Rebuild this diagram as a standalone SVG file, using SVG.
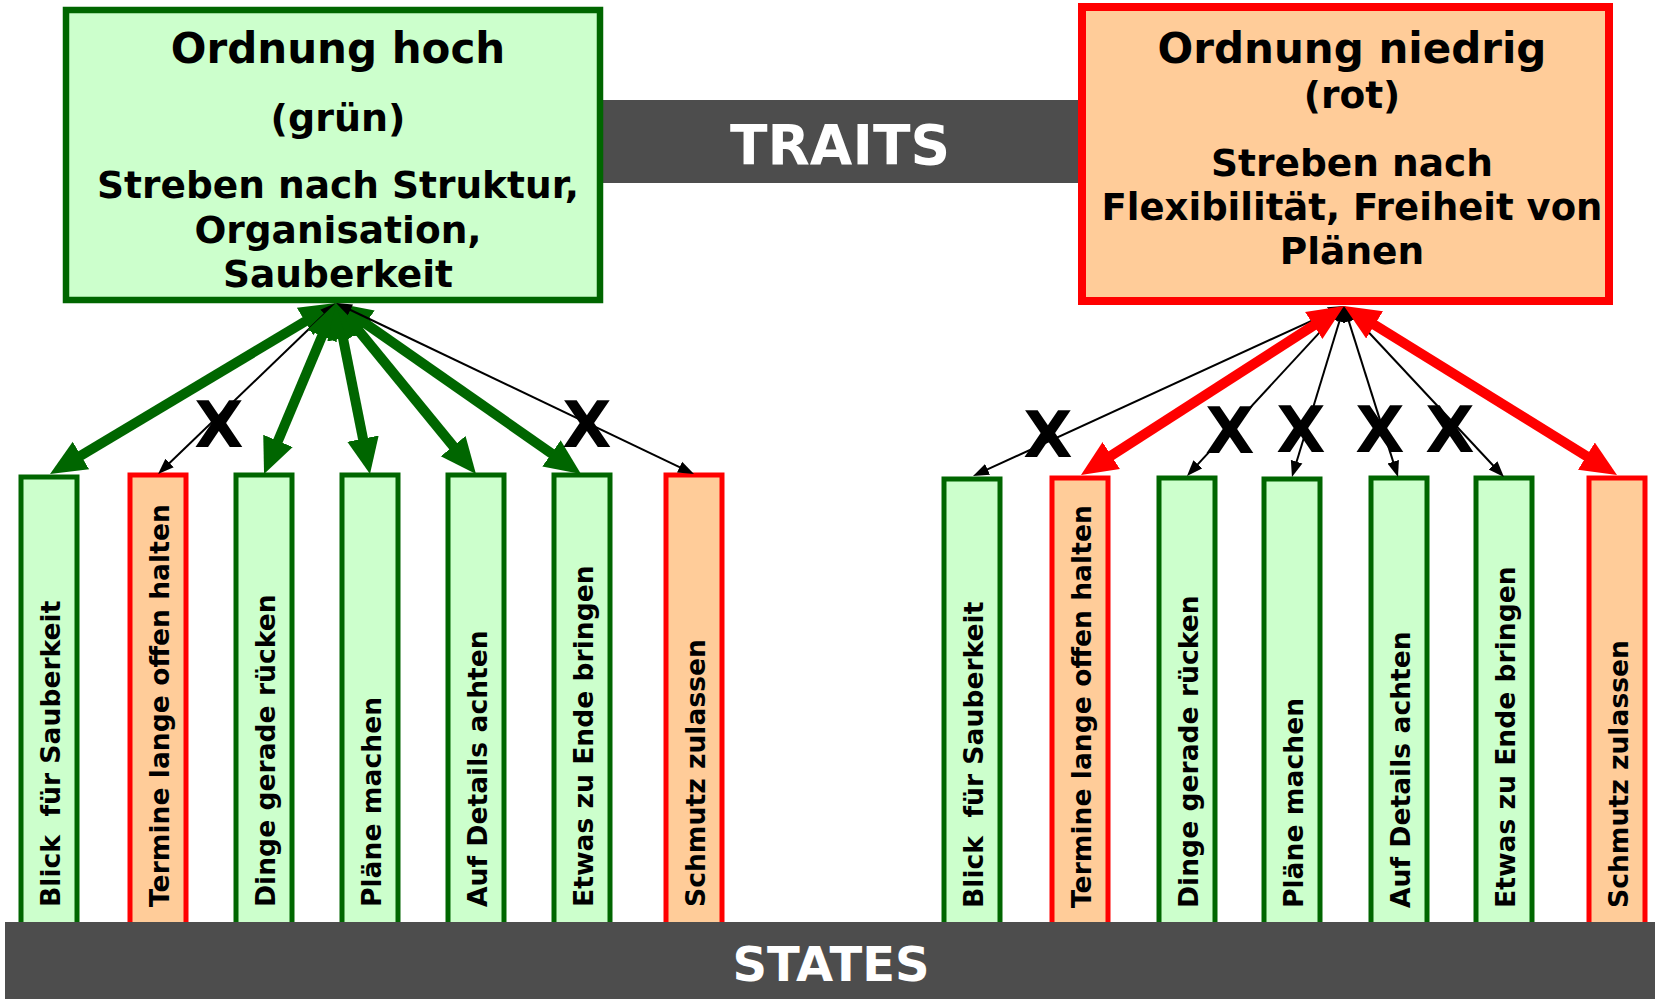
<svg xmlns="http://www.w3.org/2000/svg" width="1655" height="999" viewBox="0 0 1655 999">
<style>
text{font-family:"DejaVu Sans","Verdana",sans-serif;font-weight:bold;fill:#000}
.g{fill:#ccffcc;stroke:#006600;stroke-width:5}
.r{fill:#ffcc99;stroke:#ff0000;stroke-width:5}
.bt{font-size:26.6px;white-space:pre}
.band{fill:#4d4d4d}
.wt{fill:#fff;text-anchor:middle}
.hd{text-anchor:middle}
.x{font-size:64px;text-anchor:middle}
.tg{stroke:#006600;stroke-width:10;fill:none;marker-start:url(#hg);marker-end:url(#hg)}
.tr{stroke:#ff0000;stroke-width:10;fill:none;marker-start:url(#hr);marker-end:url(#hr)}
.tb{stroke:#000;stroke-width:2;fill:none;marker-start:url(#hb);marker-end:url(#hb)}
</style>
<defs>
<marker id="hg" markerUnits="userSpaceOnUse" markerWidth="40" markerHeight="36" viewBox="0 -18 40 36" refX="16" refY="0" orient="auto-start-reverse"><path d="M0,-16 L36,0 L0,16 Z" fill="#006600"/></marker>
<marker id="hr" markerUnits="userSpaceOnUse" markerWidth="40" markerHeight="36" viewBox="0 -18 40 36" refX="16" refY="0" orient="auto-start-reverse"><path d="M0,-16 L36,0 L0,16 Z" fill="#ff0000"/></marker>
<marker id="hb" markerUnits="userSpaceOnUse" markerWidth="18" markerHeight="14" viewBox="0 -7 18 14" refX="8" refY="0" orient="auto-start-reverse"><path d="M0,-6 L16,0 L0,6 Z" fill="#000"/></marker>
</defs>

<g id="traits-band">
<rect class="band" x="598" y="100" width="484" height="83"/>
<text class="wt" x="840" y="164" font-size="55">TRAITS</text>
</g>

<g id="ordnung-hoch">
<rect x="66" y="10" width="534" height="290" fill="#ccffcc" stroke="#006600" stroke-width="6.5"/>
<text class="hd" x="338" y="63" font-size="42">Ordnung hoch</text>
<text class="hd" x="338" y="131" font-size="38">(grün)</text>
<text class="hd" x="338" y="198" font-size="37.5">Streben nach Struktur,</text>
<text class="hd" x="338" y="243" font-size="37.5">Organisation,</text>
<text class="hd" x="338" y="287" font-size="37.5">Sauberkeit</text>
</g>

<g id="ordnung-niedrig">
<rect x="1082" y="7" width="527" height="294" fill="#ffcc99" stroke="#ff0000" stroke-width="8"/>
<text class="hd" x="1352" y="63" font-size="42">Ordnung niedrig</text>
<text class="hd" x="1352" y="108" font-size="37.5">(rot)</text>
<text class="hd" x="1352" y="176" font-size="37.5">Streben nach</text>
<text class="hd" x="1352" y="220" font-size="37">Flexibilität, Freiheit von</text>
<text class="hd" x="1352" y="264" font-size="37.5">Plänen</text>
</g>

<g id="left-states">
<g id="l1"><rect class="g" x="21" y="477" width="56" height="470"/><text class="bt" xml:space="preserve" transform="translate(60,907) rotate(-90)">Blick  für Sauberkeit</text></g>
<g id="l2"><rect class="r" x="130" y="475" width="56" height="470"/><text class="bt" transform="translate(169,907) rotate(-90)">Termine lange offen halten</text></g>
<g id="l3"><rect class="g" x="236" y="475" width="56" height="470"/><text class="bt" transform="translate(275,907) rotate(-90)">Dinge gerade rücken</text></g>
<g id="l4"><rect class="g" x="342" y="475" width="56" height="470"/><text class="bt" transform="translate(381,907) rotate(-90)">Pläne machen</text></g>
<g id="l5"><rect class="g" x="448" y="475" width="56" height="470"/><text class="bt" transform="translate(487,907) rotate(-90)">Auf Details achten</text></g>
<g id="l6"><rect class="g" x="554" y="475" width="56" height="470"/><text class="bt" transform="translate(593,907) rotate(-90)">Etwas zu Ende bringen</text></g>
<g id="l7"><rect class="r" x="666" y="475" width="56" height="470"/><text class="bt" transform="translate(705,907) rotate(-90)">Schmutz zulassen</text></g>
</g>

<g id="right-states">
<g id="r1"><rect class="g" x="944" y="479" width="56" height="470"/><text class="bt" xml:space="preserve" transform="translate(983,908) rotate(-90)">Blick  für Sauberkeit</text></g>
<g id="r2"><rect class="r" x="1052" y="478" width="56" height="470"/><text class="bt" transform="translate(1091,908) rotate(-90)">Termine lange offen halten</text></g>
<g id="r3"><rect class="g" x="1159" y="478" width="56" height="470"/><text class="bt" transform="translate(1198,908) rotate(-90)">Dinge gerade rücken</text></g>
<g id="r4"><rect class="g" x="1264" y="479" width="56" height="470"/><text class="bt" transform="translate(1303,908) rotate(-90)">Pläne machen</text></g>
<g id="r5"><rect class="g" x="1371" y="478" width="56" height="470"/><text class="bt" transform="translate(1410,908) rotate(-90)">Auf Details achten</text></g>
<g id="r6"><rect class="g" x="1476" y="478" width="56" height="470"/><text class="bt" transform="translate(1515,908) rotate(-90)">Etwas zu Ende bringen</text></g>
<g id="r7"><rect class="r" x="1589" y="478" width="56" height="470"/><text class="bt" transform="translate(1628,908) rotate(-90)">Schmutz zulassen</text></g>
</g>

<g id="states-band">
<rect class="band" x="5" y="922" width="1650" height="77"/>
<text class="wt" x="831" y="981" font-size="48">STATES</text>
</g>

<g id="connectors">
<line class="tg" x1="318.8" y1="313.3" x2="67.2" y2="463.7"/>
<line class="tb" x1="330.2" y1="308.5" x2="163.8" y2="468.5"/>
<line class="tg" x1="328.2" y1="321.4" x2="271.8" y2="455.6"/>
<line class="tg" x1="339.9" y1="322.6" x2="366.1" y2="454.4"/>
<line class="tg" x1="348.7" y1="318.5" x2="463.3" y2="458.5"/>
<line class="tg" x1="352.4" y1="314.4" x2="564.6" y2="462.6"/>
<line class="tb" x1="343.2" y1="306.5" x2="686.8" y2="470.6"/>

<line class="tb" x1="1336.7" y1="309.3" x2="980.3" y2="472.7"/>
<line class="tb" x1="1338.6" y1="311.9" x2="1192.4" y2="470.1"/>
<line class="tb" x1="1341.7" y1="313.7" x2="1294.3" y2="469.3"/>
<line class="tb" x1="1346.4" y1="313.6" x2="1395.6" y2="469.4"/>
<line class="tb" x1="1349.5" y1="311.8" x2="1498.5" y2="471.2"/>
<line class="tr" x1="1327.2" y1="316.8" x2="1097.8" y2="464.2"/>
<line class="tr" x1="1361.0" y1="316.5" x2="1600.0" y2="464.5"/>
</g>

<g id="crosses">
<text class="x" x="219" y="447">X</text>
<text class="x" x="587" y="447">X</text>
<text class="x" x="1048" y="457">X</text>
<text class="x" x="1230" y="453">X</text>
<text class="x" x="1301" y="452">X</text>
<text class="x" x="1380" y="452">X</text>
<text class="x" x="1450" y="452">X</text>
</g>
</svg>
